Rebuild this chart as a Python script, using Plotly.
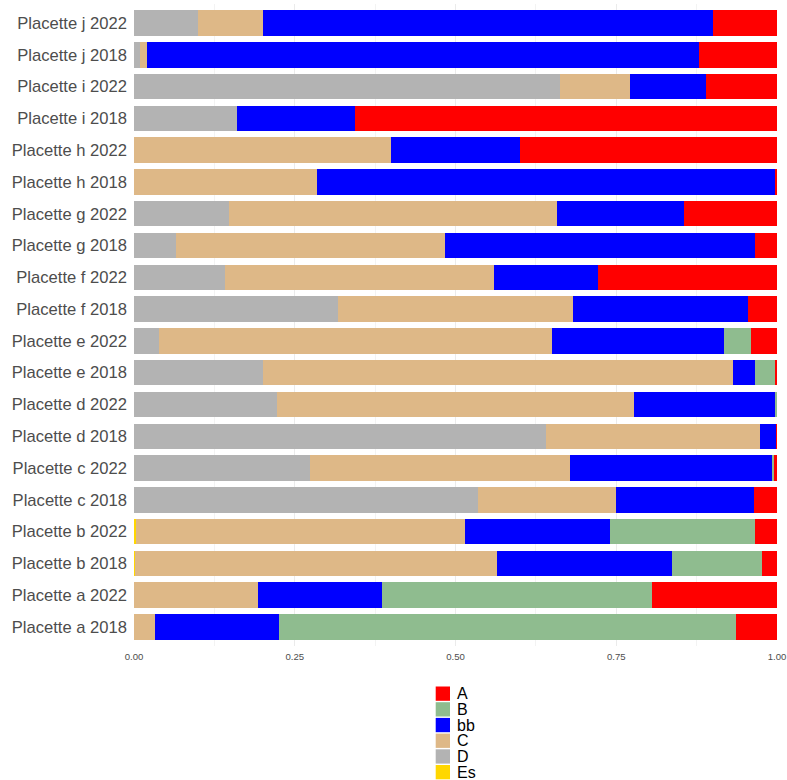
import plotly.graph_objects as go

categories = [
    "Placette a 2018", "Placette a 2022",
    "Placette b 2018", "Placette b 2022",
    "Placette c 2018", "Placette c 2022",
    "Placette d 2018", "Placette d 2022",
    "Placette e 2018", "Placette e 2022",
    "Placette f 2018", "Placette f 2022",
    "Placette g 2018", "Placette g 2022",
    "Placette h 2018", "Placette h 2022",
    "Placette i 2018", "Placette i 2022",
    "Placette j 2018", "Placette j 2022",
]

# shares per category (bottom -> top), stacked left -> right: Es, D, C, bb, B, A
Es = [0, 0, 0.002, 0.003, 0, 0, 0, 0, 0, 0, 0, 0, 0, 0, 0, 0, 0, 0, 0, 0]
D = [0, 0, 0, 0, 0.535, 0.273, 0.641, 0.222, 0.200, 0.039, 0.318, 0.142, 0.065, 0.148, 0, 0, 0.160, 0.662, 0.010, 0.100]
C = [0.032, 0.193, 0.563, 0.511, 0.215, 0.405, 0.333, 0.555, 0.731, 0.611, 0.365, 0.418, 0.418, 0.510, 0.285, 0.400, 0, 0.109, 0.010, 0.100]
bb = [0.193, 0.193, 0.271, 0.226, 0.214, 0.315, 0.025, 0.221, 0.034, 0.268, 0.272, 0.162, 0.483, 0.197, 0.712, 0.200, 0.184, 0.119, 0.858, 0.700]
B = [0.711, 0.419, 0.140, 0.226, 0, 0.003, 0, 0.002, 0.032, 0.041, 0, 0, 0, 0, 0, 0, 0, 0, 0, 0]
A = [0.064, 0.195, 0.024, 0.034, 0.036, 0.004, 0.001, 0, 0.003, 0.041, 0.045, 0.278, 0.034, 0.145, 0.003, 0.400, 0.656, 0.110, 0.122, 0.100]

series_names = ["Es", "D", "C", "bb", "B", "A"]
series_values = [Es, D, C, bb, B, A]
colors = {"A": "#FF0000", "B": "#8FBC8F", "bb": "#0000FF", "C": "#DEB887", "D": "#B3B3B3", "Es": "#FFD700"}
legend_order = ["A", "B", "bb", "C", "D", "Es"]
x_tickvals = [0, 0.25, 0.5, 0.75, 1.0]
x_ticktext = ["0.00", "0.25", "0.50", "0.75", "1.00"]

W, H = 787, 780
ML, MR, MT, MB = 134, 10, 4, 134
PW, PH = W - ML - MR, H - MT - MB

fig = go.Figure()
for name, vals in zip(series_names, series_values):
    fig.add_trace(go.Bar(
        y=categories, x=vals, name=name, orientation="h",
        marker=dict(color=colors[name], line=dict(width=0)),
        showlegend=False,
    ))

# compact legend (swatch + label), pixel positions converted to paper coords
def px_to_paper_x(px):
    return (px - ML) / PW

def px_to_paper_y(py):
    return (H - MB - py) / PH

shapes = []
annotations = []
sw_x0, sw_size, top0, pitch = 435.7, 14.3, 686.5, 15.7
for i, name in enumerate(legend_order):
    top = top0 + i * pitch
    shapes.append(dict(
        type="rect", xref="paper", yref="paper",
        x0=px_to_paper_x(sw_x0), x1=px_to_paper_x(sw_x0 + sw_size),
        y0=px_to_paper_y(top + sw_size), y1=px_to_paper_y(top),
        fillcolor=colors[name], line=dict(width=0),
    ))
    annotations.append(dict(
        xref="paper", yref="paper", x=px_to_paper_x(sw_x0 + sw_size + 5),
        y=px_to_paper_y(top + sw_size / 2), text=name, showarrow=False,
        xanchor="left", yanchor="middle",
        font=dict(size=16, color="#000000", family="Liberation Sans, Arial, sans-serif"),
    ))

fig.update_layout(
    barmode="stack",
    bargap=0.2,
    width=W, height=H,
    margin=dict(l=ML, r=MR, t=MT, b=MB, autoexpand=False),
    paper_bgcolor="white", plot_bgcolor="white",
    font=dict(family="Liberation Sans, Arial, sans-serif"),
    shapes=shapes,
    annotations=annotations,
    showlegend=False,
)
fig.update_xaxes(
    range=[0, 1], tickvals=x_tickvals, ticktext=x_ticktext,
    showgrid=True, gridcolor="#EBEBEB", gridwidth=1,
    minor=dict(tickvals=[0.125, 0.375, 0.625, 0.875], showgrid=True, gridcolor="#F3F3F3", gridwidth=0.6),
    zeroline=False, showline=False, ticks="",
    tickfont=dict(size=9.6, color="#4D4D4D"),
    ticklabelstandoff=3,
    automargin=False,
)
fig.update_yaxes(
    categoryorder="array", categoryarray=categories,
    range=[-0.6, len(categories) - 0.4],
    showgrid=False, zeroline=False, showline=False, ticks="",
    tickfont=dict(size=16.6, color="#4D4D4D"),
    ticklabelstandoff=6,
    automargin=False,
)

fig.write_html(
    "out.html",
    config={"displayModeBar": False},
    post_script="document.body.style.margin='0px';",
)
